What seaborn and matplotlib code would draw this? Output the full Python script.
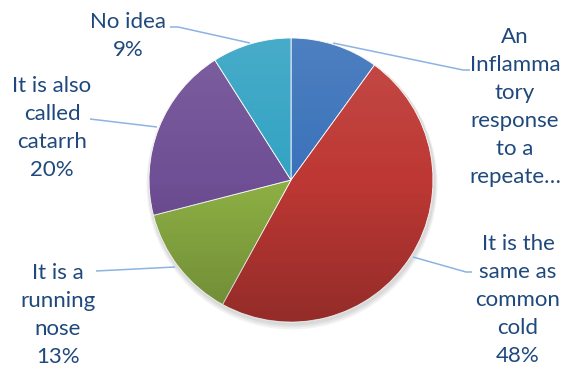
import numpy as np
import matplotlib
matplotlib.use("Agg")
import matplotlib.pyplot as plt
import seaborn as sns
from matplotlib.patches import Circle

categories = ["An Inflammatory response to a repeated",
              "It is the same as common cold",
              "It is a running nose",
              "It is also called catarrh",
              "No idea"]
values = [10, 48, 13, 20, 9]
label_texts = ["An\nInflamma\ntory\nresponse\nto a\nrepeate…",
               "It is the\nsame as\ncommon\ncold\n48%",
               "It is a\nrunning\nnose\n13%",
               "It is also\ncalled\ncatarrh\n20%",
               "No idea\n9%"]
colors = ["#3A72BA", "#BD3834", "#8DB044", "#6F4F95", "#33A3C3"]

sns.set_theme(style="white")
plt.rcParams['font.family'] = ['Lato', 'DejaVu Sans']

W, H = 571, 370
fig = plt.figure(figsize=(W / 100, H / 100), dpi=100)
ax = fig.add_axes([0, 0, 1, 1])
ax.set_xlim(0, W)
ax.set_ylim(0, H)
ax.set_aspect('equal')
ax.axis('off')

cx, cy, R = 291, H - 180, 142

# soft shadow
for i, a in enumerate([0.05, 0.05, 0.05]):
    ax.add_patch(Circle((cx + 1, cy - 2 - i), R + 1.5 + i, color='black', alpha=a, lw=0, zorder=0))

wedges, _ = ax.pie(values, colors=sns.color_palette(colors), startangle=90,
                   counterclock=False, center=(cx, cy), radius=R,
                   wedgeprops=dict(linewidth=0.6, edgecolor='white'), frame=True)
ax.set_xlim(0, W)
ax.set_ylim(0, H)
ax.axis('off')

# vertical gradient (light top, dark bottom) clipped to pie
grad = np.linspace(0, 1, 256).reshape(-1, 1)
rgba = np.zeros((256, 1, 4))
top_light = 0.10
bot_dark = 0.22
for k, t in enumerate(grad[:, 0]):
    if t > 0.5:
        rgba[k] = [1, 1, 1, top_light * (t - 0.5) * 2]
    else:
        rgba[k] = [0, 0, 0, bot_dark * (0.5 - t) * 2]
im = ax.imshow(rgba, extent=(cx - R, cx + R, cy - R, cy + R), origin='lower',
               aspect='auto', zorder=3, interpolation='bilinear')
im.set_clip_path(Circle((cx, cy), R, transform=ax.transData))
ax.set_xlim(0, W)
ax.set_ylim(0, H)

text_color = "#1F497D"
line_color = "#8DB3E2"

# label centres (x, y top-down) and leader lines
label_pos = [(515, 107), (518, 300), (58, 315), (52, 128), (128, 36)]
leaders = [[(333, 43), (463, 70), (470, 70)],
           [(413, 257), (466, 272), (472, 272)],
           [(175, 267), (96, 271)],
           [(157, 127), (90, 119)],
           [(250, 43), (178, 27), (170, 27)]]

for txt, (x, y) in zip(label_texts, label_pos):
    ax.text(x, H - y, txt, ha='center', va='center', fontsize=16,
            color=text_color, linespacing=1.5, zorder=5)
for pts in leaders:
    xs = [p[0] for p in pts]
    ys = [H - p[1] for p in pts]
    ax.plot(xs, ys, color=line_color, lw=1.1, zorder=4, solid_capstyle='butt')

fig.savefig("out.png", dpi=100)
